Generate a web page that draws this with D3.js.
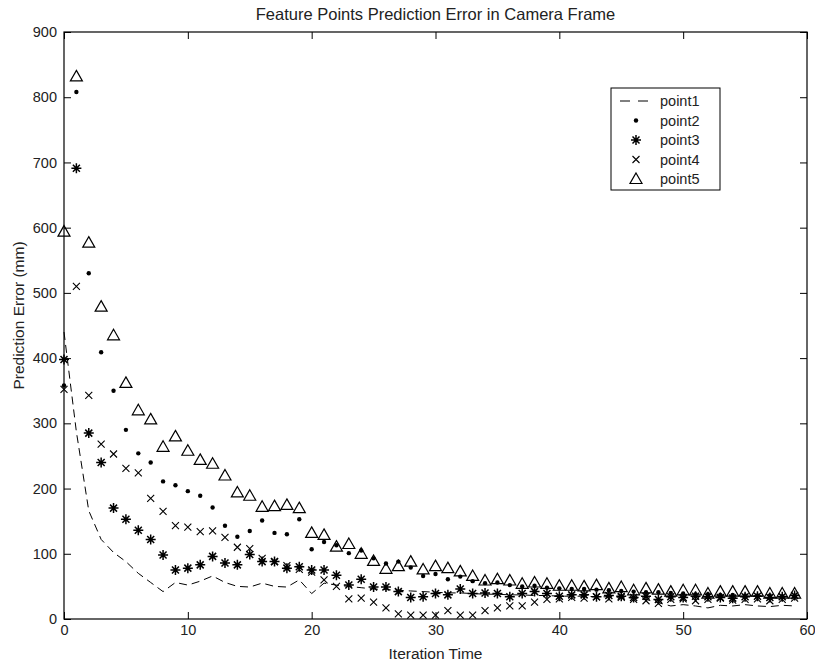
<!DOCTYPE html>
<html>
<head>
<meta charset="utf-8">
<script src="https://cdn.jsdelivr.net/npm/d3@7"></script>
<style>
  body { margin: 0; background: #fff; }
  svg { font-family: "Liberation Sans", Arial, sans-serif; }
</style>
</head>
<body>
<div id="graph"></div>
<script>
// values, one per iteration (0..59)
var iterations = d3.range(0, 60);
var point1 = [440, 287, 166, 122, 102, 88, 70, 56, 42, 56, 52, 58, 66, 56, 50, 49, 55, 50, 49, 60,
              39, 55, 52, 50, 48, 46, 45, 44, 43, 42, 41, 40, 40, 39, 38, 38, 37, 37, 36, 36,
              35, 35, 35, 34, 34, 33, 32, 30, 25, 20, 22, 20, 17, 21, 20, 22, 20, 19, 21, 20];
var point2 = [358, 808, 530, 409, 350, 290, 254, 240, 211, 205, 196, 189, 171, 143, 126, 135, 151, 132, 130, 153,
              107, 118, 113, 101, 105, 93, 85, 88, 79, 66, 69, 61, 65, 58, 55, 56, 52, 50, 51, 48,
              47, 46, 46, 45, 44, 43, 42, 41, 41, 40, 39, 38, 38, 37, 37, 36, 36, 36, 35, 35];
var point3 = [398, 691, 285, 240, 170, 153, 136, 122, 98, 75, 78, 83, 96, 86, 83, 99, 88, 88, 78, 80,
              75, 75, 67, 52, 61, 49, 49, 42, 33, 34, 39, 37, 46, 39, 40, 39, 34, 39, 42, 39,
              35, 37, 37, 34, 36, 35, 33, 35, 30, 34, 33, 35, 34, 33, 32, 34, 35, 33, 34, 36];
var point4 = [352, 510, 343, 268, 253, 231, 224, 185, 165, 143, 141, 134, 135, 125, 110, 108, 93, 88, 82, 76,
              72, 60, 50, 31, 32, 26, 17, 8, 6, 6, 6, 13, 6, 6, 13, 17, 20, 20, 26, 30,
              31, 33, 32, 34, 31, 33, 30, 28, 24, 30, 31, 28, 30, 32, 29, 30, 31, 28, 30, 32];
var point5 = [594, 832, 577, 479, 435, 362, 320, 306, 264, 280, 258, 244, 238, 220, 194, 189, 172, 173, 175, 170,
              132, 129, 111, 115, 100, 89, 77, 81, 88, 76, 81, 78, 73, 66, 59, 61, 59, 54, 56, 54,
              51, 51, 50, 52, 47, 49, 44, 47, 45, 42, 44, 44, 39, 42, 42, 42, 42, 39, 39, 39];

var seriesNames = ["point1", "point2", "point3", "point4", "point5"];
var xTicks = [0, 10, 20, 30, 40, 50, 60];
var yTicks = [0, 100, 200, 300, 400, 500, 600, 700, 800, 900];

var svgWidth = 815, svgHeight = 664;
var margin = {top: 32, right: 8, bottom: 45, left: 64};
var chartWidth = svgWidth - margin.left - margin.right;
var chartHeight = svgHeight - margin.top - margin.bottom;

var svg = d3.select("#graph").append("svg")
  .attr("width", svgWidth)
  .attr("height", svgHeight);

var chartGroup = svg.append("g")
  .attr("transform", `translate(${margin.left}, ${margin.top})`);

var x = d3.scaleLinear().domain([0, 60]).range([0, chartWidth]);
var y = d3.scaleLinear().domain([0, 900]).range([chartHeight, 0]);

// frame with inward ticks on all sides
function styleAxis(g) {
  g.select(".domain").remove();
  g.selectAll("line").attr("stroke", "#000");
  g.selectAll("text").attr("fill", "#222").style("font-size", "14.5px");
}

chartGroup.append("g")
  .attr("transform", `translate(0, ${chartHeight})`)
  .call(d3.axisBottom(x).tickValues(xTicks).tickSizeInner(-7).tickSizeOuter(0).tickPadding(6))
  .call(styleAxis);
chartGroup.append("g")
  .call(d3.axisTop(x).tickValues(xTicks).tickSizeInner(-7).tickSizeOuter(0).tickFormat(""))
  .call(styleAxis);
chartGroup.append("g")
  .call(d3.axisLeft(y).tickValues(yTicks).tickSizeInner(-7).tickSizeOuter(0).tickPadding(7))
  .call(styleAxis);
chartGroup.append("g")
  .attr("transform", `translate(${chartWidth}, 0)`)
  .call(d3.axisRight(y).tickValues(yTicks).tickSizeInner(-7).tickSizeOuter(0).tickFormat(""))
  .call(styleAxis);

chartGroup.append("rect")
  .attr("width", chartWidth)
  .attr("height", chartHeight)
  .attr("fill", "none")
  .attr("stroke", "#000")
  .attr("stroke-width", 1.2);

// marker drawers
function drawDot(g) {
  g.append("circle").attr("r", 2.2).attr("fill", "#000");
}
function drawStar(g) {
  var s = 5;
  g.append("path")
    .attr("d", `M${-s},0H${s}M0,${-s}V${s}M${-s*0.7},${-s*0.7}L${s*0.7},${s*0.7}M${-s*0.7},${s*0.7}L${s*0.7},${-s*0.7}`)
    .attr("stroke", "#000").attr("stroke-width", 1.5).attr("fill", "none");
}
function drawCross(g) {
  var s = 3.5;
  g.append("path")
    .attr("d", `M${-s},${-s}L${s},${s}M${-s},${s}L${s},${-s}`)
    .attr("stroke", "#000").attr("stroke-width", 1.1).attr("fill", "none");
}
function drawTriangle(g) {
  g.append("path")
    .attr("d", "M0,-6L6,4.5L-6,4.5Z")
    .attr("stroke", "#000").attr("stroke-width", 1.2).attr("fill", "none");
}

var line = d3.line()
  .x(function(d, i) { return x(iterations[i]); })
  .y(function(d) { return y(d); });

chartGroup.append("path")
  .datum(point1)
  .attr("d", line)
  .attr("fill", "none")
  .attr("stroke", "#000")
  .attr("stroke-width", 1)
  .attr("stroke-dasharray", "8,5");

function scatter(values, drawer) {
  chartGroup.append("g").selectAll("g")
    .data(values)
    .join("g")
    .attr("transform", function(d, i) { return `translate(${x(iterations[i])}, ${y(d)})`; })
    .each(function() { drawer(d3.select(this)); });
}

scatter(point2, drawDot);
scatter(point3, drawStar);
scatter(point4, drawCross);
scatter(point5, drawTriangle);

// legend
var legend = svg.append("g").attr("transform", "translate(611, 88)");
legend.append("rect")
  .attr("width", 109)
  .attr("height", 102)
  .attr("fill", "#fff")
  .attr("stroke", "#000")
  .attr("stroke-width", 1);

var drawers = [null, drawDot, drawStar, drawCross, drawTriangle];
seriesNames.forEach(function(name, i) {
  var row = legend.append("g").attr("transform", `translate(0, ${13 + i * 19.5})`);
  if (i == 0) {
    row.append("line")
      .attr("x1", 9).attr("x2", 40).attr("y1", 0).attr("y2", 0)
      .attr("stroke", "#000").attr("stroke-dasharray", "10,8");
  } else {
    var m = row.append("g").attr("transform", "translate(25, 0)");
    drawers[i](m);
  }
  row.append("text")
    .attr("x", 49)
    .attr("y", 0)
    .attr("dy", "0.35em")
    .attr("fill", "#222")
    .style("font-size", "14.5px")
    .text(name);
});

// titles
svg.append("text")
  .attr("x", margin.left + chartWidth / 2)
  .attr("y", 20)
  .style("text-anchor", "middle")
  .style("font-size", "16.5px")
  .attr("fill", "#222")
  .text("Feature Points Prediction Error in Camera Frame");

svg.append("text")
  .attr("x", margin.left + chartWidth / 2)
  .attr("y", 659)
  .style("text-anchor", "middle")
  .style("font-size", "15.5px")
  .attr("fill", "#222")
  .text("Iteration Time");

svg.append("text")
  .attr("transform", `translate(24, ${margin.top + chartHeight / 2 - 10}) rotate(-90)`)
  .style("text-anchor", "middle")
  .style("font-size", "15.5px")
  .attr("fill", "#222")
  .text("Prediction Error (mm)");
</script>
</body>
</html>
